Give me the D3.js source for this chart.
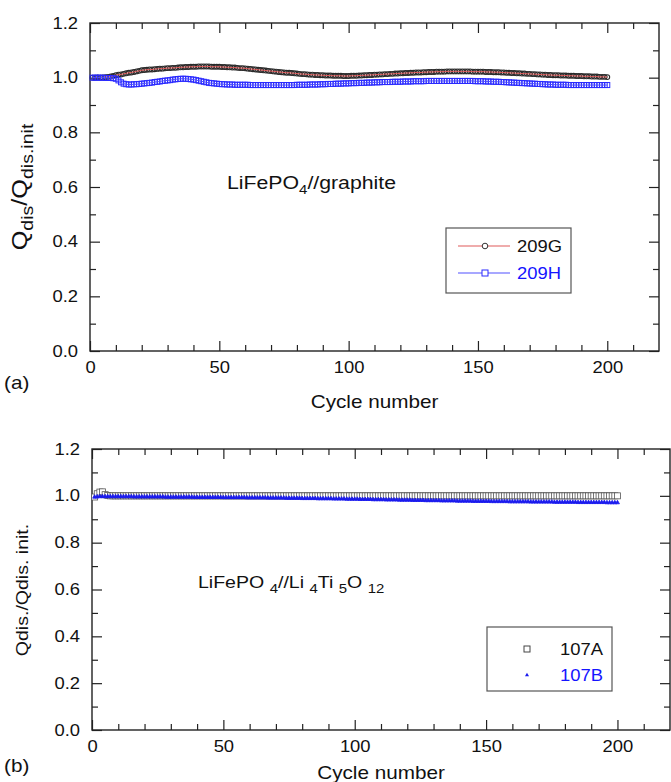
<!DOCTYPE html>
<html><head><meta charset="utf-8">
<script src="https://cdn.jsdelivr.net/npm/d3@7"></script>
<style>body{margin:0;background:#fff}svg{display:block}text{font-family:"Liberation Sans",Arial,sans-serif}</style>
</head><body>
<svg id="c" width="671" height="782"></svg>
<script>
const cycles = d3.range(1, 201);
const xTicksMajor = [0, 50, 100, 150, 200];
const xTicksMinor = [10,20,30,40,60,70,80,90,110,120,130,140,160,170,180,190,210];
const yTicksMajor = [0, 0.2, 0.4, 0.6, 0.8, 1.0, 1.2];
const yTicksMinor = [0.1, 0.3, 0.5, 0.7, 0.9, 1.1];
const seriesNamesA = ["209G", "209H"];
const seriesNamesB = ["107A", "107B"];

const q209G = [
1.000,1.000,1.001,1.000,1.001,1.002,1.003,1.004,1.006,1.009,
1.011,1.012,1.014,1.016,1.018,1.019,1.021,1.023,1.025,1.027,
1.028,1.029,1.030,1.030,1.031,1.032,1.033,1.033,1.034,1.035,
1.035,1.036,1.036,1.037,1.038,1.038,1.039,1.039,1.040,1.040,
1.040,1.041,1.041,1.041,1.041,1.041,1.040,1.040,1.040,1.040,
1.039,1.039,1.038,1.038,1.037,1.037,1.036,1.035,1.035,1.034,
1.033,1.032,1.031,1.030,1.029,1.028,1.027,1.026,1.025,1.024,
1.023,1.022,1.021,1.020,1.019,1.018,1.018,1.017,1.016,1.015,
1.014,1.013,1.013,1.012,1.011,1.011,1.010,1.010,1.009,1.009,
1.008,1.008,1.008,1.007,1.007,1.007,1.007,1.006,1.006,1.006,
1.007,1.007,1.007,1.008,1.008,1.009,1.009,1.010,1.010,1.011,
1.011,1.012,1.012,1.013,1.013,1.014,1.014,1.015,1.015,1.016,
1.016,1.017,1.017,1.018,1.018,1.019,1.019,1.019,1.020,1.020,
1.021,1.021,1.021,1.022,1.022,1.022,1.022,1.023,1.023,1.023,
1.023,1.023,1.023,1.023,1.023,1.023,1.023,1.022,1.022,1.022,
1.022,1.022,1.021,1.021,1.021,1.020,1.020,1.020,1.019,1.019,
1.018,1.018,1.017,1.017,1.016,1.016,1.015,1.015,1.014,1.014,
1.013,1.013,1.012,1.012,1.011,1.011,1.010,1.010,1.009,1.009,
1.009,1.008,1.008,1.008,1.007,1.007,1.007,1.006,1.006,1.006,
1.005,1.005,1.005,1.004,1.004,1.004,1.003,1.003,1.003,1.002];

const q209H = [
1.000,1.000,1.000,1.000,1.000,0.999,0.999,0.999,0.998,0.996,
0.990,0.983,0.978,0.976,0.975,0.975,0.976,0.976,0.977,0.978,
0.979,0.980,0.981,0.982,0.984,0.985,0.986,0.988,0.989,0.990,
0.991,0.993,0.994,0.995,0.996,0.996,0.996,0.995,0.994,0.993,
0.991,0.989,0.987,0.985,0.983,0.981,0.980,0.979,0.978,0.977,
0.976,0.976,0.975,0.975,0.975,0.974,0.974,0.974,0.974,0.974,
0.974,0.973,0.973,0.973,0.973,0.973,0.973,0.973,0.973,0.973,
0.973,0.973,0.973,0.973,0.973,0.973,0.973,0.973,0.973,0.974,
0.974,0.974,0.974,0.974,0.975,0.975,0.975,0.975,0.976,0.976,
0.976,0.977,0.977,0.977,0.978,0.978,0.978,0.979,0.979,0.979,
0.980,0.980,0.980,0.981,0.981,0.981,0.982,0.982,0.982,0.983,
0.983,0.983,0.984,0.984,0.984,0.984,0.985,0.985,0.985,0.985,
0.986,0.986,0.986,0.986,0.987,0.987,0.987,0.987,0.987,0.988,
0.988,0.988,0.988,0.988,0.988,0.988,0.988,0.988,0.988,0.988,
0.988,0.988,0.988,0.988,0.988,0.988,0.988,0.988,0.987,0.987,
0.987,0.987,0.986,0.986,0.986,0.985,0.985,0.985,0.984,0.984,
0.983,0.983,0.982,0.982,0.981,0.981,0.980,0.980,0.979,0.979,
0.978,0.978,0.977,0.977,0.976,0.976,0.975,0.975,0.975,0.974,
0.974,0.974,0.974,0.974,0.973,0.973,0.973,0.973,0.973,0.973,
0.973,0.973,0.973,0.973,0.973,0.973,0.973,0.973,0.973,0.973];

const q107A = [
0.995,1.009,1.016,1.017,1.005,1.001,1.000,1.000,1.000,1.000,
1.000,1.000,1.000,1.000,1.000,1.000,1.000,1.000,1.000,1.000,
1.000,1.000,1.000,1.000,1.000,1.000,1.000,1.000,1.000,1.000,
1.000,1.000,1.000,1.000,1.000,1.000,1.000,1.000,1.000,1.000,
1.000,1.000,1.000,1.000,1.000,1.000,1.000,1.000,1.000,1.000,
1.000,1.000,1.000,1.000,1.000,1.000,1.000,1.000,1.000,1.000,
1.000,1.000,1.000,1.000,1.000,1.000,1.000,1.000,1.000,1.000,
1.000,1.000,1.000,1.000,1.000,1.000,1.000,1.000,1.000,1.000,
1.000,1.000,1.000,1.000,1.000,1.000,1.000,1.000,1.000,1.000,
1.000,1.000,1.000,1.000,1.000,1.000,1.000,1.000,1.000,1.000,
1.000,1.000,1.000,1.000,1.000,1.000,1.000,1.000,1.000,1.000,
1.000,1.000,1.000,1.000,1.000,1.000,1.000,1.000,1.000,1.000,
1.000,1.000,1.000,1.000,1.000,1.000,1.000,1.000,1.000,1.000,
1.000,1.000,1.000,1.000,1.000,1.000,1.000,1.000,1.000,1.000,
1.000,1.000,1.000,1.000,1.000,1.000,1.000,1.000,1.000,1.000,
1.000,1.000,1.000,1.000,1.000,1.000,1.000,1.000,1.000,1.000,
1.000,1.000,1.000,1.000,1.000,1.000,1.000,1.000,1.000,1.000,
1.000,1.000,1.000,1.000,1.000,1.000,1.000,1.000,1.000,1.000,
1.000,1.000,1.000,1.000,1.000,1.000,1.000,1.000,1.000,1.000,
1.000,1.000,1.000,1.000,1.000,1.000,1.000,1.000,1.000,1.000];

const q107B = [
0.995,0.996,0.997,0.997,0.997,0.997,0.997,0.997,0.997,0.997,
0.997,0.997,0.997,0.997,0.997,0.996,0.996,0.996,0.996,0.996,
0.996,0.996,0.996,0.996,0.996,0.996,0.996,0.995,0.995,0.995,
0.995,0.995,0.995,0.995,0.995,0.995,0.995,0.995,0.994,0.994,
0.994,0.994,0.994,0.994,0.994,0.994,0.994,0.994,0.994,0.993,
0.993,0.993,0.993,0.993,0.993,0.993,0.993,0.993,0.992,0.992,
0.992,0.992,0.992,0.992,0.992,0.992,0.991,0.991,0.991,0.991,
0.991,0.991,0.991,0.990,0.990,0.990,0.990,0.990,0.990,0.989,
0.989,0.989,0.989,0.989,0.989,0.988,0.988,0.988,0.988,0.988,
0.988,0.987,0.987,0.987,0.987,0.987,0.986,0.986,0.986,0.986,
0.986,0.985,0.985,0.985,0.985,0.985,0.984,0.984,0.984,0.984,
0.984,0.983,0.983,0.983,0.983,0.983,0.982,0.982,0.982,0.982,
0.982,0.981,0.981,0.981,0.981,0.981,0.980,0.980,0.980,0.980,
0.980,0.980,0.979,0.979,0.979,0.979,0.979,0.979,0.978,0.978,
0.978,0.978,0.978,0.978,0.977,0.977,0.977,0.977,0.977,0.977,
0.977,0.976,0.976,0.976,0.976,0.976,0.976,0.976,0.975,0.975,
0.975,0.975,0.975,0.975,0.975,0.975,0.974,0.974,0.974,0.974,
0.974,0.974,0.974,0.974,0.974,0.973,0.973,0.973,0.973,0.973,
0.973,0.973,0.973,0.973,0.972,0.972,0.972,0.972,0.972,0.972,
0.972,0.972,0.972,0.972,0.972,0.971,0.971,0.971,0.971,0.971];

const SX = 1.15; // horizontal stretch of the lettering
const svg = d3.select("#c");

function stretched(sel, x, y) {
  return sel.attr("transform", `translate(${x},${y}) scale(${SX},1)`);
}

function panel(o) {
  const g = svg.append("g");
  const x = d3.scaleLinear().domain([0, 220]).range([o.L, o.R]);
  const y = d3.scaleLinear().domain([0, 1.2]).range([o.B, o.T]);
  const fmt = d3.format(".1f");

  const mk = (axis, tr, vals, size, labels) => {
    const a = g.append("g").attr("transform", tr)
      .call(axis.tickValues(vals).tickSize(size).tickPadding(labels ? 11 : 0)
        .tickFormat(labels ? labels : ""));
    a.select(".domain").remove();
    a.selectAll("line").attr("stroke", "#222").attr("stroke-width", 1.2);
    a.selectAll("text").attr("font-size", 16).attr("fill", "#111")
      .attr("font-family", '"Liberation Sans",Arial,sans-serif');
    return a;
  };
  const bx = mk(d3.axisBottom(x), `translate(0,${o.B})`, xTicksMajor, -10, d3.format("d"));
  bx.selectAll("text").attr("transform", `scale(${SX},1)`);
  mk(d3.axisBottom(x), `translate(0,${o.B})`, xTicksMinor, -6, null);
  mk(d3.axisTop(x), `translate(0,${o.T})`, xTicksMajor, -10, null);
  mk(d3.axisTop(x), `translate(0,${o.T})`, xTicksMinor, -6, null);
  const ly = mk(d3.axisLeft(y), `translate(${o.L},0)`, yTicksMajor, -10, fmt);
  ly.selectAll("text").attr("x", -12 / SX).attr("transform", `scale(${SX},1)`);
  mk(d3.axisLeft(y), `translate(${o.L},0)`, yTicksMinor, -6, null);
  mk(d3.axisRight(y), `translate(${o.R},0)`, yTicksMajor, -10, null);
  mk(d3.axisRight(y), `translate(${o.R},0)`, yTicksMinor, -6, null);

  g.append("rect").attr("x", o.L).attr("y", o.T).attr("width", o.R - o.L).attr("height", o.B - o.T)
    .attr("fill", "none").attr("stroke", "#222").attr("stroke-width", 1.4);

  stretched(g.append("text"), (o.L + o.R) / 2, o.B + o.titleGap).attr("text-anchor", "middle")
    .attr("font-size", 18).attr("fill", "#111").text("Cycle number");
  stretched(g.append("text"), 4, o.B + o.tagGap).attr("font-size", 18).attr("fill", "#111").text(o.tag);
  return {g, x, y};
}

// ---------- Panel (a)
const A = panel({L: 90, R: 659, T: 23, B: 351, tag: "(a)", titleGap: 57, tagGap: 38});
{
  const {g, x, y} = A;
  const line = d3.line().x((d, i) => x(cycles[i])).y(d => y(d));
  g.append("g").selectAll("circle").data(q209G).join("circle")
    .attr("cx", (d, i) => x(cycles[i])).attr("cy", d => y(d)).attr("r", 2.4)
    .attr("fill", "none").attr("stroke", "#2a2a2a").attr("stroke-width", 1.1);
  g.append("path").datum(q209G).attr("d", line).attr("fill", "none").attr("stroke", "#e05a5a").attr("stroke-width", 1);
  g.append("g").selectAll("rect").data(q209H).join("rect")
    .attr("x", (d, i) => x(cycles[i]) - 2.5).attr("y", d => y(d) - 2.5).attr("width", 5).attr("height", 5)
    .attr("fill", "none").attr("stroke", "#2a2aff").attr("stroke-width", 1);
  g.append("path").datum(q209H).attr("d", line).attr("fill", "none").attr("stroke", "#5050ff").attr("stroke-width", 1);

  // y label
  const yl = g.append("text").attr("transform", `translate(27,187) rotate(-90) scale(${SX},1)`)
    .attr("text-anchor", "middle").attr("font-size", 22).attr("fill", "#111");
  yl.append("tspan").text("Q");
  yl.append("tspan").attr("font-size", 17).attr("dy", 6).text("dis");
  yl.append("tspan").attr("dy", -6).text("/Q");
  yl.append("tspan").attr("font-size", 17).attr("dy", 6).text("dis.init");

  // annotation
  const an = stretched(g.append("text"), 227, 189).attr("font-size", 18.5).attr("fill", "#111");
  an.append("tspan").text("LiFePO");
  an.append("tspan").attr("font-size", 13).attr("dy", 5).text("4");
  an.append("tspan").attr("dy", -5).text("//graphite");

  // legend
  g.append("rect").attr("x", 446).attr("y", 228).attr("width", 125).attr("height", 65)
    .attr("fill", "#fff").attr("stroke", "#555").attr("stroke-width", 1.2);
  const rows = [
    {name: seriesNamesA[0], yy: 246, lc: "#e05a5a", mc: "#333", tc: "#111", shape: "circle"},
    {name: seriesNamesA[1], yy: 273, lc: "#5050ff", mc: "#2a2aff", tc: "#1515ff", shape: "square"}];
  rows.forEach(r => {
    g.append("line").attr("x1", 458).attr("x2", 510).attr("y1", r.yy).attr("y2", r.yy)
      .attr("stroke", r.lc).attr("stroke-width", 1.2);
    if (r.shape === "circle")
      g.append("circle").attr("cx", 485).attr("cy", r.yy).attr("r", 2.8).attr("fill", "#fff").attr("stroke", r.mc);
    else
      g.append("rect").attr("x", 482).attr("y", r.yy - 3).attr("width", 6).attr("height", 6).attr("fill", "#fff").attr("stroke", r.mc);
    stretched(g.append("text"), 517, r.yy + 6).attr("font-size", 16).attr("fill", r.tc).text(r.name);
  });
}

// ---------- Panel (b)
const B = panel({L: 92, R: 670, T: 449, B: 730, tag: "(b)", titleGap: 49, tagGap: 42});
{
  const {g, x, y} = B;
  g.append("g").selectAll("rect").data(q107A).join("rect")
    .attr("x", (d, i) => x(cycles[i]) - 3).attr("y", d => y(d) - 3).attr("width", 6).attr("height", 6)
    .attr("fill", "#fff").attr("stroke", "#555").attr("stroke-width", 0.8);
  const tri = d3.symbol().type(d3.symbolTriangle).size(7);
  g.append("g").selectAll("path").data(q107B).join("path")
    .attr("transform", (d, i) => `translate(${x(cycles[i])},${y(d)})`).attr("d", tri)
    .attr("fill", "#1a1aee").attr("stroke", "#1a1aee").attr("stroke-width", 0.8);

  g.append("text").attr("transform", `translate(28,590) rotate(-90) scale(${SX},1)`)
    .attr("text-anchor", "middle").attr("font-size", 17).attr("fill", "#111").text("Qdis./Qdis. init.");

  const an = stretched(g.append("text"), 198, 588).attr("font-size", 17).attr("fill", "#111");
  an.append("tspan").text("LiFePO ");
  an.append("tspan").attr("font-size", 13).attr("dy", 5).text(" 4");
  an.append("tspan").attr("dy", -5).text("//Li ");
  an.append("tspan").attr("font-size", 13).attr("dy", 5).text("4");
  an.append("tspan").attr("dy", -5).text("Ti ");
  an.append("tspan").attr("font-size", 13).attr("dy", 5).text("5");
  an.append("tspan").attr("dy", -5).text("O ");
  an.append("tspan").attr("font-size", 13).attr("dy", 5).text("12");

  g.append("rect").attr("x", 487).attr("y", 627).attr("width", 125).attr("height", 64)
    .attr("fill", "#fff").attr("stroke", "#555").attr("stroke-width", 1.2);
  g.append("rect").attr("x", 524).attr("y", 646).attr("width", 6).attr("height", 6)
    .attr("fill", "#fff").attr("stroke", "#444");
  stretched(g.append("text"), 560, 655).attr("font-size", 16).attr("fill", "#111").text(seriesNamesB[0]);
  g.append("path").attr("transform", "translate(527,675)").attr("d", tri).attr("fill", "#1a1aee");
  stretched(g.append("text"), 560, 681).attr("font-size", 16).attr("fill", "#1515ff").text(seriesNamesB[1]);
}
</script>
</body></html>
